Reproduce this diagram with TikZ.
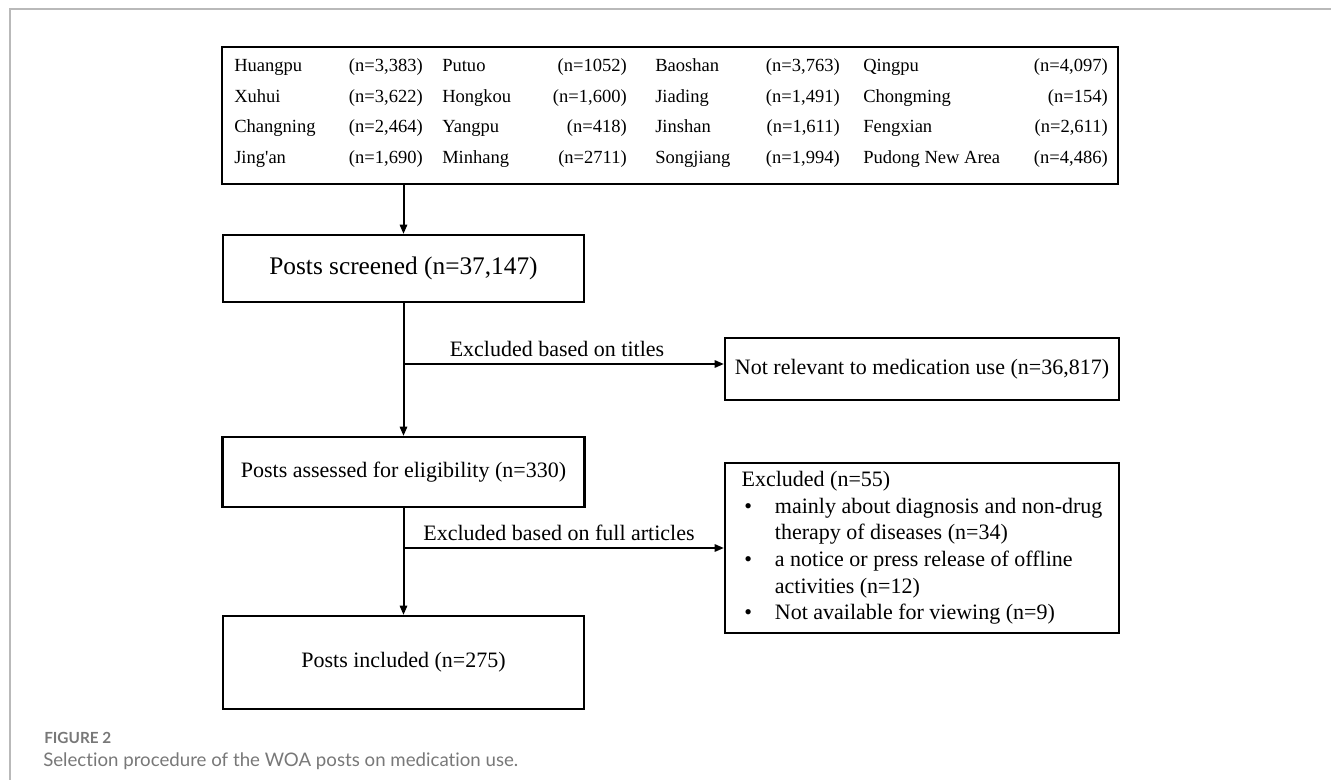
\documentclass[tikz,border=0pt]{standalone}
\usepackage{fontspec}
\setmainfont{Liberation Serif}
\newfontfamily\capfont{Lato}[Ligatures={NoCommon}]
\usetikzlibrary{arrows.meta}
\definecolor{framegray}{RGB}{185,185,185}
\definecolor{capgray}{RGB}{120,120,120}
\begin{document}
\begin{tikzpicture}[x=0.75pt,y=-0.75pt,
  box/.style={draw=black, line width=1.6pt, fill=white, inner sep=0pt, font=\fontsize{16.5}{19.9}\selectfont},
  tcell/.style={font=\fontsize{13.9}{16}\selectfont, inner sep=0pt},
  arr/.style={line width=1.5pt, -{Triangle[length=7pt,width=5.5pt]}},
  lab/.style={font=\fontsize{16.5}{19.8}\selectfont, inner sep=0pt},
  frame/.style={draw=framegray, line width=1.5pt}]
\useasboundingbox (0,0) rectangle (1331,780);
\draw[frame] (10,780) -- (10,9) -- (1331,9);

% table
\node[draw, line width=1.6pt, minimum width=672pt, minimum height=102.75pt, inner sep=0pt] (tbl) at (670,115.5) {};
% column 1
\node[tcell, anchor=base west] (r1c1) at (234,72) {Huangpu};
\node[tcell, anchor=base east] (r1c1n) at (423,72) {(n=3,383)};
\node[tcell, anchor=base west] (r2c1) at (234,102.5) {Xuhui};
\node[tcell, anchor=base east] (r2c1n) at (423,102.5) {(n=3,622)};
\node[tcell, anchor=base west] (r3c1) at (234,133) {Changning};
\node[tcell, anchor=base east] (r3c1n) at (423,133) {(n=2,464)};
\node[tcell, anchor=base west] (r4c1) at (234,163.5) {Jing\textquotesingle an};
\node[tcell, anchor=base east] (r4c1n) at (423,163.5) {(n=1,690)};
% column 2
\node[tcell, anchor=base west] (r1c2) at (442,72) {Putuo};
\node[tcell, anchor=base east] (r1c2n) at (627,72) {(n=1052)};
\node[tcell, anchor=base west] (r2c2) at (442,102.5) {Hongkou};
\node[tcell, anchor=base east] (r2c2n) at (627,102.5) {(n=1,600)};
\node[tcell, anchor=base west] (r3c2) at (442,133) {Yangpu};
\node[tcell, anchor=base east] (r3c2n) at (627,133) {(n=418)};
\node[tcell, anchor=base west] (r4c2) at (442,163.5) {Minhang};
\node[tcell, anchor=base east] (r4c2n) at (627,163.5) {(n=2711)};
% column 3
\node[tcell, anchor=base west] (r1c3) at (655,72) {Baoshan};
\node[tcell, anchor=base east] (r1c3n) at (840,72) {(n=3,763)};
\node[tcell, anchor=base west] (r2c3) at (655,102.5) {Jiading};
\node[tcell, anchor=base east] (r2c3n) at (840,102.5) {(n=1,491)};
\node[tcell, anchor=base west] (r3c3) at (655,133) {Jinshan};
\node[tcell, anchor=base east] (r3c3n) at (840,133) {(n=1,611)};
\node[tcell, anchor=base west] (r4c3) at (655,163.5) {Songjiang};
\node[tcell, anchor=base east] (r4c3n) at (840,163.5) {(n=1,994)};
% column 4
\node[tcell, anchor=base west] (r1c4) at (863,72) {Qingpu};
\node[tcell, anchor=base east] (r1c4n) at (1108,72) {(n=4,097)};
\node[tcell, anchor=base west] (r2c4) at (863,102.5) {Chongming};
\node[tcell, anchor=base east] (r2c4n) at (1108,102.5) {(n=154)};
\node[tcell, anchor=base west] (r3c4) at (863,133) {Fengxian};
\node[tcell, anchor=base east] (r3c4n) at (1108,133) {(n=2,611)};
\node[tcell, anchor=base west] (r4c4) at (863,163.5) {Pudong New Area};
\node[tcell, anchor=base east] (r4c4n) at (1108,163.5) {(n=4,486)};

% main boxes
\node[box, minimum width=270.75pt, minimum height=50.25pt, font=\fontsize{19}{22}\selectfont] (scr) at (403.5,268.5) {Posts screened (n=37,147)};
\node[box, minimum width=271.5pt, minimum height=52.5pt] (elig) at (403.5,472) {Posts assessed for eligibility (n=330)};
\node[box, minimum width=270.75pt, minimum height=69.75pt] (inc) at (403.5,662.5) {\raisebox{4pt}{Posts included (n=275)}};
\node[box, minimum width=295.5pt, minimum height=46.5pt] (notrel) at (922,369) {Not relevant to medication use (n=36,817)};
\node[box, minimum width=295.5pt, minimum height=127.5pt, align=left] (exc) at (922,548) {%
Excluded (n=55)\\
\makebox[25pt][l]{\hspace{2pt}•}mainly about diagnosis and non-drug\\
\hspace*{25pt}therapy of diseases (n=34)\\
\makebox[25pt][l]{\hspace{2pt}•}a notice or press release of offline\\
\hspace*{25pt}activities (n=12)\\
\makebox[25pt][l]{\hspace{2pt}•}Not available for viewing (n=9)};

% connectors
\draw[arr] (tbl.south -| scr.north) -- (scr.north);
\draw[arr] (scr.south) -- (elig.north);
\draw[arr] (elig.south) -- (inc.north);
\coordinate (br1) at (403.5,364);
\coordinate (br2) at (403.5,548);
\draw[arr] (br1) -- (br1 -| notrel.west);
\draw[arr] (br2) -- (br2 -| exc.west);
\node[lab] (lab1) at (557,349) {Excluded based on titles};
\node[lab] (lab2) at (559,533) {Excluded based on full articles};

% caption
\node[anchor=west, inner sep=0pt, text=capgray, font=\capfont\bfseries\fontsize{11.5}{14}\selectfont] (figno) at (44,738) {FIGURE 2};
\node[anchor=west, inner sep=0pt, text=capgray, font=\capfont\fontsize{14}{17}\selectfont] (cap) at (43,761) {Selection procedure of the WOA posts on medication use.};
\end{tikzpicture}
\end{document}
